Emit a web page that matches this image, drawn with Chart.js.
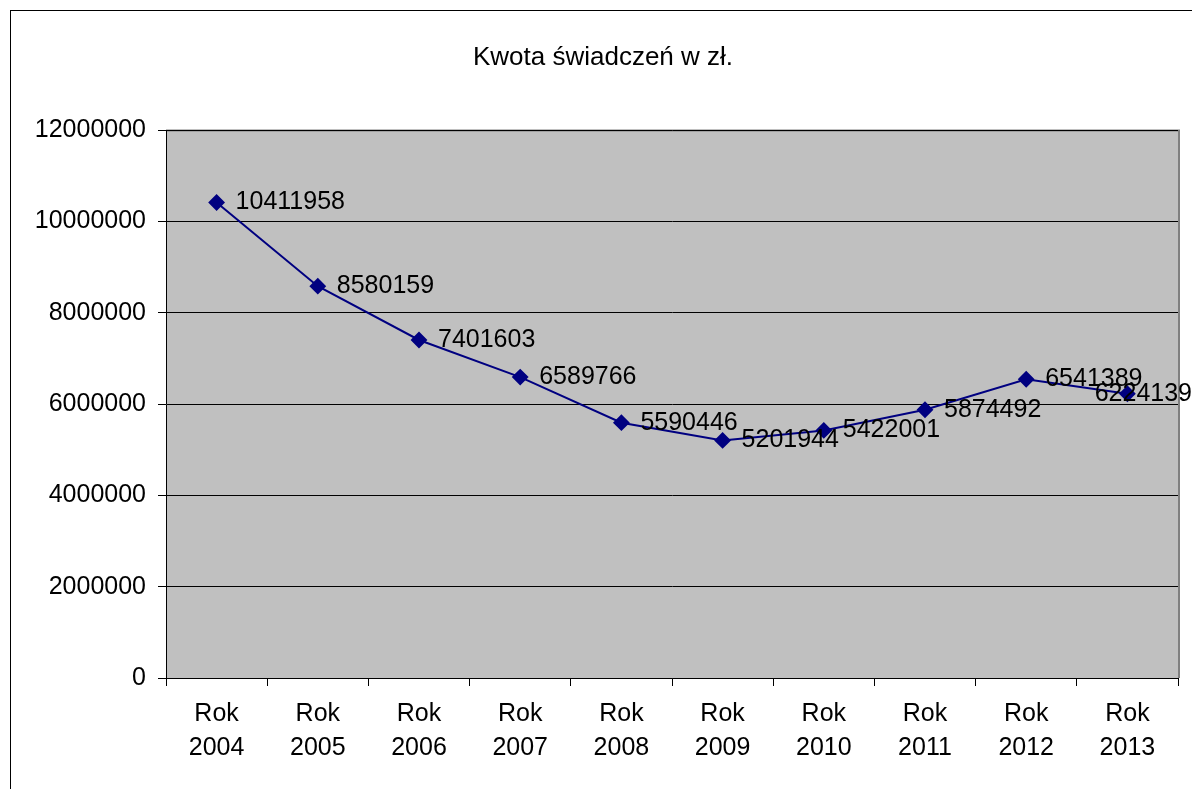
<!DOCTYPE html>
<html>
<head>
<meta charset="utf-8">
<script src="https://cdn.jsdelivr.net/npm/chart.js@4/dist/chart.umd.min.js"></script>
<style>
html,body{margin:0;padding:0;background:#fff;}
#wrap{width:1192px;height:789px;position:relative;}
</style>
</head>
<body>
<div id="wrap"><canvas id="c" width="1192" height="789"></canvas></div>
<script>
const categories = [['Rok','2004'],['Rok','2005'],['Rok','2006'],['Rok','2007'],['Rok','2008'],['Rok','2009'],['Rok','2010'],['Rok','2011'],['Rok','2012'],['Rok','2013']];
const values = [10411958, 8580159, 7401603, 6589766, 5590446, 5201944, 5422001, 5874492, 6541389, 6224139];
const titleText = 'Kwota świadczeń w zł.';
const yMin = 0, yMax = 12000000, yStep = 2000000;

const FONT = "'Liberation Sans', Arial, sans-serif";
const FS = 25;

const decor = {
  id: 'decor',
  beforeDraw(chart) {
    const ctx = chart.ctx, a = chart.chartArea;
    ctx.save();
    ctx.fillStyle = '#fff';
    ctx.fillRect(0, 0, chart.width, chart.height);
    ctx.strokeStyle = '#000';
    ctx.lineWidth = 1;
    ctx.strokeRect(10.5, 10.5, 1300, 900);
    ctx.fillStyle = '#C0C0C0';
    ctx.fillRect(a.left, a.top, a.right - a.left, a.bottom - a.top);
    ctx.strokeStyle = '#808080';
    ctx.lineWidth = 2;
    ctx.beginPath();
    ctx.moveTo(a.left, a.top + 0.5);
    ctx.lineTo(a.right + 1, a.top + 0.5);
    ctx.lineTo(a.right + 1, a.bottom);
    ctx.stroke();
    ctx.fillStyle = '#000';
    ctx.font = '26px ' + FONT;
    ctx.textAlign = 'center';
    ctx.textBaseline = 'middle';
    ctx.fillText(titleText, 603, 58);
    ctx.restore();
  },
  afterDatasetsDraw(chart) {
    const ctx = chart.ctx;
    const meta = chart.getDatasetMeta(0);
    ctx.save();
    ctx.fillStyle = '#000';
    ctx.font = FS + 'px ' + FONT;
    ctx.textAlign = 'left';
    ctx.textBaseline = 'middle';
    meta.data.forEach((pt, i) => {
      const t = String(values[i]);
      const w = ctx.measureText(t).width;
      let x = pt.x + 19;
      if (x + w > chart.width) x = chart.width - w;
      ctx.fillText(t, x, pt.y);
    });
    ctx.restore();
  }
};

new Chart(document.getElementById('c'), {
  type: 'line',
  data: {
    labels: categories,
    datasets: [{
      data: values,
      borderColor: '#000080',
      backgroundColor: '#000080',
      borderWidth: 2,
      pointStyle: 'rectRot',
      pointRadius: 7,
      pointHoverRadius: 7,
      pointBackgroundColor: '#000080',
      pointBorderColor: '#000080',
      tension: 0
    }]
  },
  options: {
    responsive: false,
    animation: false,
    events: [],
    layout: { padding: { top: 130, right: 14, left: 0, bottom: 0 } },
    plugins: { legend: { display: false }, title: { display: false }, tooltip: { enabled: false } },
    scales: {
      x: {
        offset: true,
        grid: { display: true, drawOnChartArea: false, drawTicks: true, tickLength: 8, tickColor: '#000', offset: true, color: '#000' },
        border: { display: true, color: '#000', width: 1 },
        ticks: { color: '#000', font: { family: FONT, size: FS, lineHeight: 1.36 }, padding: 11, maxRotation: 0, autoSkip: false },
        afterFit(scale) { scale.height = 789 - 678; }
      },
      y: {
        min: yMin, max: yMax,
        grid: { color: '#000', lineWidth: 1, drawTicks: true, tickLength: 8, tickColor: '#000' },
        border: { display: true, color: '#000', width: 1 },
        ticks: { stepSize: yStep, color: '#000', font: { family: FONT, size: FS }, padding: 12, callback: v => String(v) },
        afterFit(scale) { scale.width = 166; }
      }
    }
  },
  plugins: [decor]
});
</script>
</body>
</html>
